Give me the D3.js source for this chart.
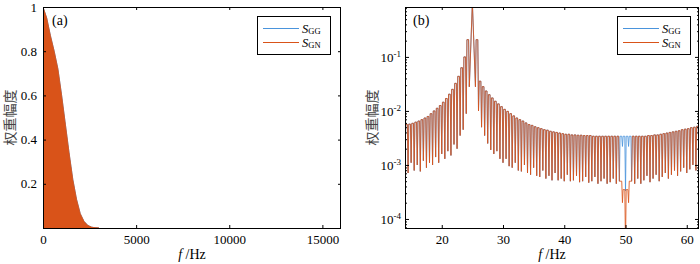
<!DOCTYPE html>
<html>
<head>
<meta charset="utf-8">
<script src="https://cdn.jsdelivr.net/npm/d3@7"></script>
<style>
  body { margin: 0; background: #fff; }
  svg { display: block; }
</style>
</head>
<body>
<div id="canvas"></div>
<script>
// ---------- data ----------
const seriesNames = ["GG", "GN"];
const seriesColors = ["#4a94dc", "#D95319"];

// (a) weight amplitude envelope over the full band (both series overlap)
const freqA = [0, 200, 400, 600, 800, 1000, 1200, 1400, 1600, 1800, 2000, 2200, 2400, 2600, 2800, 3000];
const ampA = [1.0, 0.95, 0.87, 0.80, 0.72, 0.60, 0.47, 0.34, 0.22, 0.13, 0.065, 0.03, 0.012, 0.004, 0.001, 0];
const xTicksA = [0, 5000, 10000, 15000];
const yTicksA = [0.2, 0.4, 0.6, 0.8, 1];

// (b) zoom 14-62 Hz, log scale: lobe tops and nulls of the comb
const lobeFreqB = [...d3.range(14.25, 24.3, 0.5), 25, ...d3.range(25.75, 61.8, 0.5)];
const nullFreqB = [...d3.range(14, 24.6, 0.5), ...d3.range(25.5, 62.01, 0.5)];

const lobesLeft = [0.0056, 0.0057, 0.0059, 0.0062, 0.0065, 0.0069, 0.0074, 0.0079, 0.0089, 0.010,
  0.0112, 0.0126, 0.0145, 0.017, 0.0204, 0.0251, 0.0324, 0.0437, 0.0631, 0.10, 0.209];
const lobeMain = [1.0];
const lobesRight = [0.209, 0.0355, 0.0282, 0.0234, 0.0200, 0.0174, 0.0151, 0.0135, 0.0120, 0.0107,
  0.0098, 0.0089, 0.0081, 0.0074, 0.0069, 0.0065, 0.0060, 0.0056, 0.0054, 0.0051,
  0.0049, 0.0047, 0.0045, 0.0044, 0.0042, 0.0041, 0.0040, 0.0039, 0.0038,
  0.0037, 0.0037, 0.0036, 0.0036, 0.00355, 0.00355, 0.0035, 0.0035, 0.0035, 0.0034,
  0.0034, 0.0034, 0.0034, 0.0034, 0.0034, 0.0034, 0.0034, 0.0034];
const lobesNotchGN = [0.0005, 0.00035, 0.00035, 0.0005];
const lobesNotchGG = [0.0034, 0.0034, 0.0034, 0.0034];
const lobesTail = [0.0034, 0.0034, 0.0034, 0.0034, 0.0034, 0.0035, 0.0035, 0.0036, 0.0036, 0.0037,
  0.0038, 0.0039, 0.0040, 0.0041, 0.0042, 0.0043, 0.0045, 0.0046, 0.0047, 0.0049, 0.0050, 0.0052];

const nullsLeft = [8.9e-4, 7.1e-4, 1.1e-3, 7.9e-4, 1.0e-3, 7.6e-4, 1.2e-3, 8.9e-4, 1.1e-3, 1.0e-3,
  1.4e-3, 1.1e-3, 1.6e-3, 1.3e-3, 1.8e-3, 1.5e-3, 2.4e-3, 2.0e-3, 3.5e-3, 4.5e-3, 8.9e-3, 0.028];
const nullsRight = [0.028, 0.010, 0.0050, 0.0035, 0.0025, 0.0019, 0.0016, 0.0018, 0.0013, 0.0011,
  0.0013, 9.5e-4, 8.9e-4, 1.1e-3, 7.9e-4, 7.6e-4, 1.0e-3, 7.1e-4, 6.6e-4, 8.9e-4,
  6.3e-4, 6.0e-4, 7.9e-4, 5.6e-4, 6.3e-4, 5.2e-4, 7.1e-4, 5.2e-4, 5.6e-4, 5.0e-4,
  6.6e-4, 5.0e-4, 5.2e-4, 6.3e-4, 4.8e-4, 5.0e-4, 6.0e-4, 4.7e-4, 5.0e-4, 6.0e-4,
  4.5e-4, 5.0e-4, 5.6e-4, 4.5e-4, 4.8e-4, 5.6e-4, 4.5e-4, 5.0e-4];
const nullsNotchGN = [2.0e-4, 3.0e-5, 2.0e-4];
const nullsNotchGG = [2.2e-3, 3.3e-4, 2.2e-3];
const nullsTail = [5.0e-4, 4.5e-4, 5.6e-4, 4.5e-4, 5.2e-4, 6.3e-4, 4.8e-4, 5.6e-4, 6.6e-4, 5.0e-4,
  6.0e-4, 7.1e-4, 5.6e-4, 6.6e-4, 7.9e-4, 6.3e-4, 7.6e-4, 8.9e-4, 7.1e-4, 8.3e-4,
  1.0e-3, 7.9e-4, 9.5e-4];

const xTicksB = [20, 30, 40, 50, 60];
const yTicksB = [1e-4, 1e-3, 1e-2, 1e-1];

const lobesGN = [...lobesLeft, ...lobeMain, ...lobesRight, ...lobesNotchGN, ...lobesTail];
const lobesGG = [...lobesLeft, ...lobeMain, ...lobesRight, ...lobesNotchGG, ...lobesTail];
const nullsGN = [...nullsLeft, ...nullsRight, ...nullsNotchGN, ...nullsTail];
const nullsGG = [...nullsLeft, ...nullsRight, ...nullsNotchGG, ...nullsTail];

// ---------- chart ----------
const width = 700;
const height = 264;
const serif = "'Liberation Serif','Times New Roman',serif";
const cjk = "'Noto Sans CJK SC',sans-serif";

const svg = d3.select("#canvas").append("svg")
  .attr("width", width)
  .attr("height", height)
  .style("font-family", serif);

const boxA = { left: 43, right: 341, top: 7, bottom: 228 };
const boxB = { left: 405, right: 699, top: 7, bottom: 228 };

const xA = d3.scaleLinear().domain([0, 16000]).range([boxA.left, boxA.right]);
const yA = d3.scaleLinear().domain([0, 1]).range([boxA.bottom, boxA.top]);
const xB = d3.scaleLinear().domain([14, 62]).range([boxB.left, boxB.right]);
const yB = d3.scaleLog().domain([6.8e-5, 0.84]).range([boxB.bottom, boxB.top]);

const defs = svg.append("defs");
[["clipA", boxA], ["clipB", boxB]].forEach(([id, b]) => {
  defs.append("clipPath").attr("id", id)
    .append("rect")
    .attr("x", b.left).attr("y", b.top)
    .attr("width", b.right - b.left).attr("height", b.bottom - b.top);
});

// panel (a): dense oscillation renders as a filled envelope
const areaA = d3.area()
  .x((d) => xA(d[0]))
  .y0(yA(0))
  .y1((d) => yA(d[1]));
const dataA = freqA.map((f, i) => [f, ampA[i]]);
const plotA = svg.append("g").attr("clip-path", "url(#clipA)");
seriesNames.forEach((s, i) => {
  plotA.append("path")
    .attr("d", areaA(dataA))
    .attr("fill", seriesColors[i])
    .attr("stroke", seriesColors[i])
    .attr("stroke-width", 0.8);
});

// panel (b): comb of lobes, drawn null -> lobe top -> null
function combPoints(lobes, nulls) {
  const pts = [];
  lobeFreqB.forEach((c, i) => {
    const n0 = nullFreqB[i];
    const n1 = nullFreqB[i + 1];
    pts.push([n0, nulls[i]]);
    if (n1 - n0 > 0.6) {
      pts.push([c, lobes[i]]); // main lobe: single sharp peak
    } else {
      pts.push([c - 0.55 * (c - n0), lobes[i]]);
      pts.push([c + 0.55 * (n1 - c), lobes[i]]);
    }
  });
  pts.push([nullFreqB[nullFreqB.length - 1], nulls[nulls.length - 1]]);
  return pts;
}
const lineB = d3.line()
  .x((d) => xB(d[0]))
  .y((d) => yB(Math.max(d[1], 1e-6)));
const plotB = svg.append("g").attr("clip-path", "url(#clipB)");
[[lobesGG, nullsGG], [lobesGN, nullsGN]].forEach(([l, n], i) => {
  plotB.append("path")
    .attr("d", lineB(combPoints(l, n)))
    .attr("fill", "none")
    .attr("stroke", seriesColors[i])
    .attr("stroke-width", 0.85);
});

// axes
function styleAxis(g) {
  g.attr("font-family", null).attr("font-size", null);
  g.select(".domain").remove();
  g.selectAll(".tick line").attr("stroke", "#000");
  g.selectAll(".tick text")
    .attr("fill", "#000")
    .attr("font-family", serif)
    .style("font-size", "13px")
    .style("font-family", serif);
}

// (a)
svg.append("g").attr("transform", `translate(0,${boxA.bottom})`)
  .call(d3.axisBottom(xA).tickValues(xTicksA).tickSize(-3).tickPadding(7).tickFormat(d3.format("d")))
  .call(styleAxis);
svg.append("g").attr("transform", `translate(0,${boxA.top})`)
  .call(d3.axisTop(xA).tickValues(xTicksA).tickSize(-3).tickFormat(""))
  .call(styleAxis);
svg.append("g").attr("transform", `translate(${boxA.left},0)`)
  .call(d3.axisLeft(yA).tickValues(yTicksA).tickSize(-3).tickPadding(6)
    .tickFormat((d) => (d === 1 ? "1" : d3.format(".1f")(d))))
  .call(styleAxis);
svg.append("g").attr("transform", `translate(${boxA.right},0)`)
  .call(d3.axisRight(yA).tickValues(yTicksA).tickSize(-3).tickFormat(""))
  .call(styleAxis);

// (b)
const minorB = [];
[-5, -4, -3, -2, -1].forEach((e) => {
  for (let k = 2; k <= 9; k++) {
    const v = k * Math.pow(10, e);
    if (v > 6.8e-5 && v < 0.84) minorB.push(v);
  }
});
svg.append("g").attr("transform", `translate(0,${boxB.bottom})`)
  .call(d3.axisBottom(xB).tickValues(xTicksB).tickSize(-3).tickPadding(7).tickFormat(d3.format("d")))
  .call(styleAxis);
svg.append("g").attr("transform", `translate(0,${boxB.top})`)
  .call(d3.axisTop(xB).tickValues(xTicksB).tickSize(-3).tickFormat(""))
  .call(styleAxis);
const yAxisB = svg.append("g").attr("transform", `translate(${boxB.left},0)`)
  .call(d3.axisLeft(yB).tickValues(yTicksB).tickSize(-4).tickPadding(4))
  .call(styleAxis);
yAxisB.selectAll(".tick text").each(function (d) {
  const t = d3.select(this);
  t.text(null);
  t.append("tspan").text("10");
  t.append("tspan").attr("dy", -5).style("font-size", "9px").text(Math.round(Math.log10(d)));
});
svg.append("g").attr("transform", `translate(${boxB.left},0)`)
  .call(d3.axisLeft(yB).tickValues(minorB).tickSize(-2).tickFormat(""))
  .call(styleAxis);
svg.append("g").attr("transform", `translate(${boxB.right},0)`)
  .call(d3.axisRight(yB).tickValues(yTicksB).tickSize(-4).tickFormat(""))
  .call(styleAxis);
svg.append("g").attr("transform", `translate(${boxB.right},0)`)
  .call(d3.axisRight(yB).tickValues(minorB).tickSize(-2).tickFormat(""))
  .call(styleAxis);

// frames, labels, legends
[[boxA, "(a)", 52], [boxB, "(b)", 413]].forEach(([b, tag, tx]) => {
  svg.append("rect")
    .attr("x", b.left + 0.5).attr("y", b.top + 0.5)
    .attr("width", b.right - b.left - 1).attr("height", b.bottom - b.top)
    .attr("fill", "none").attr("stroke", "#000");

  svg.append("text").attr("x", tx).attr("y", 25).style("font-size", "14px").text(tag);

  const xl = svg.append("text")
    .attr("x", (b.left + b.right) / 2).attr("y", 259)
    .attr("text-anchor", "middle").style("font-size", "14px");
  xl.append("tspan").style("font-style", "italic").text("f");
  xl.append("tspan").text(" /Hz");

  svg.append("text")
    .attr("transform", `translate(${b.left - 34},${(b.top + b.bottom) / 2}) rotate(-90)`)
    .attr("text-anchor", "middle")
    .attr("dominant-baseline", "central")
    .style("font-family", cjk)
    .style("font-size", "14px")
    .attr("fill", "#444")
    .text("权重幅度");
});

function legend(x0) {
  const g = svg.append("g").attr("transform", `translate(${x0},16)`);
  g.append("rect")
    .attr("x", 0.5).attr("y", 0.5).attr("width", 73).attr("height", 38)
    .attr("fill", "#fff").attr("stroke", "#000");
  seriesNames.forEach((s, i) => {
    const y = 12.5 + i * 14;
    g.append("line")
      .attr("x1", 6).attr("x2", 42).attr("y1", y).attr("y2", y)
      .attr("stroke", seriesColors[i]).attr("stroke-width", 1);
    const t = g.append("text").attr("x", 45).attr("y", y + 4).style("font-size", "12.5px");
    t.append("tspan").style("font-style", "italic").text("S");
    t.append("tspan").attr("dy", 1).style("font-size", "8.5px").text(s);
  });
}
legend(257);
legend(617);
</script>
</body>
</html>
